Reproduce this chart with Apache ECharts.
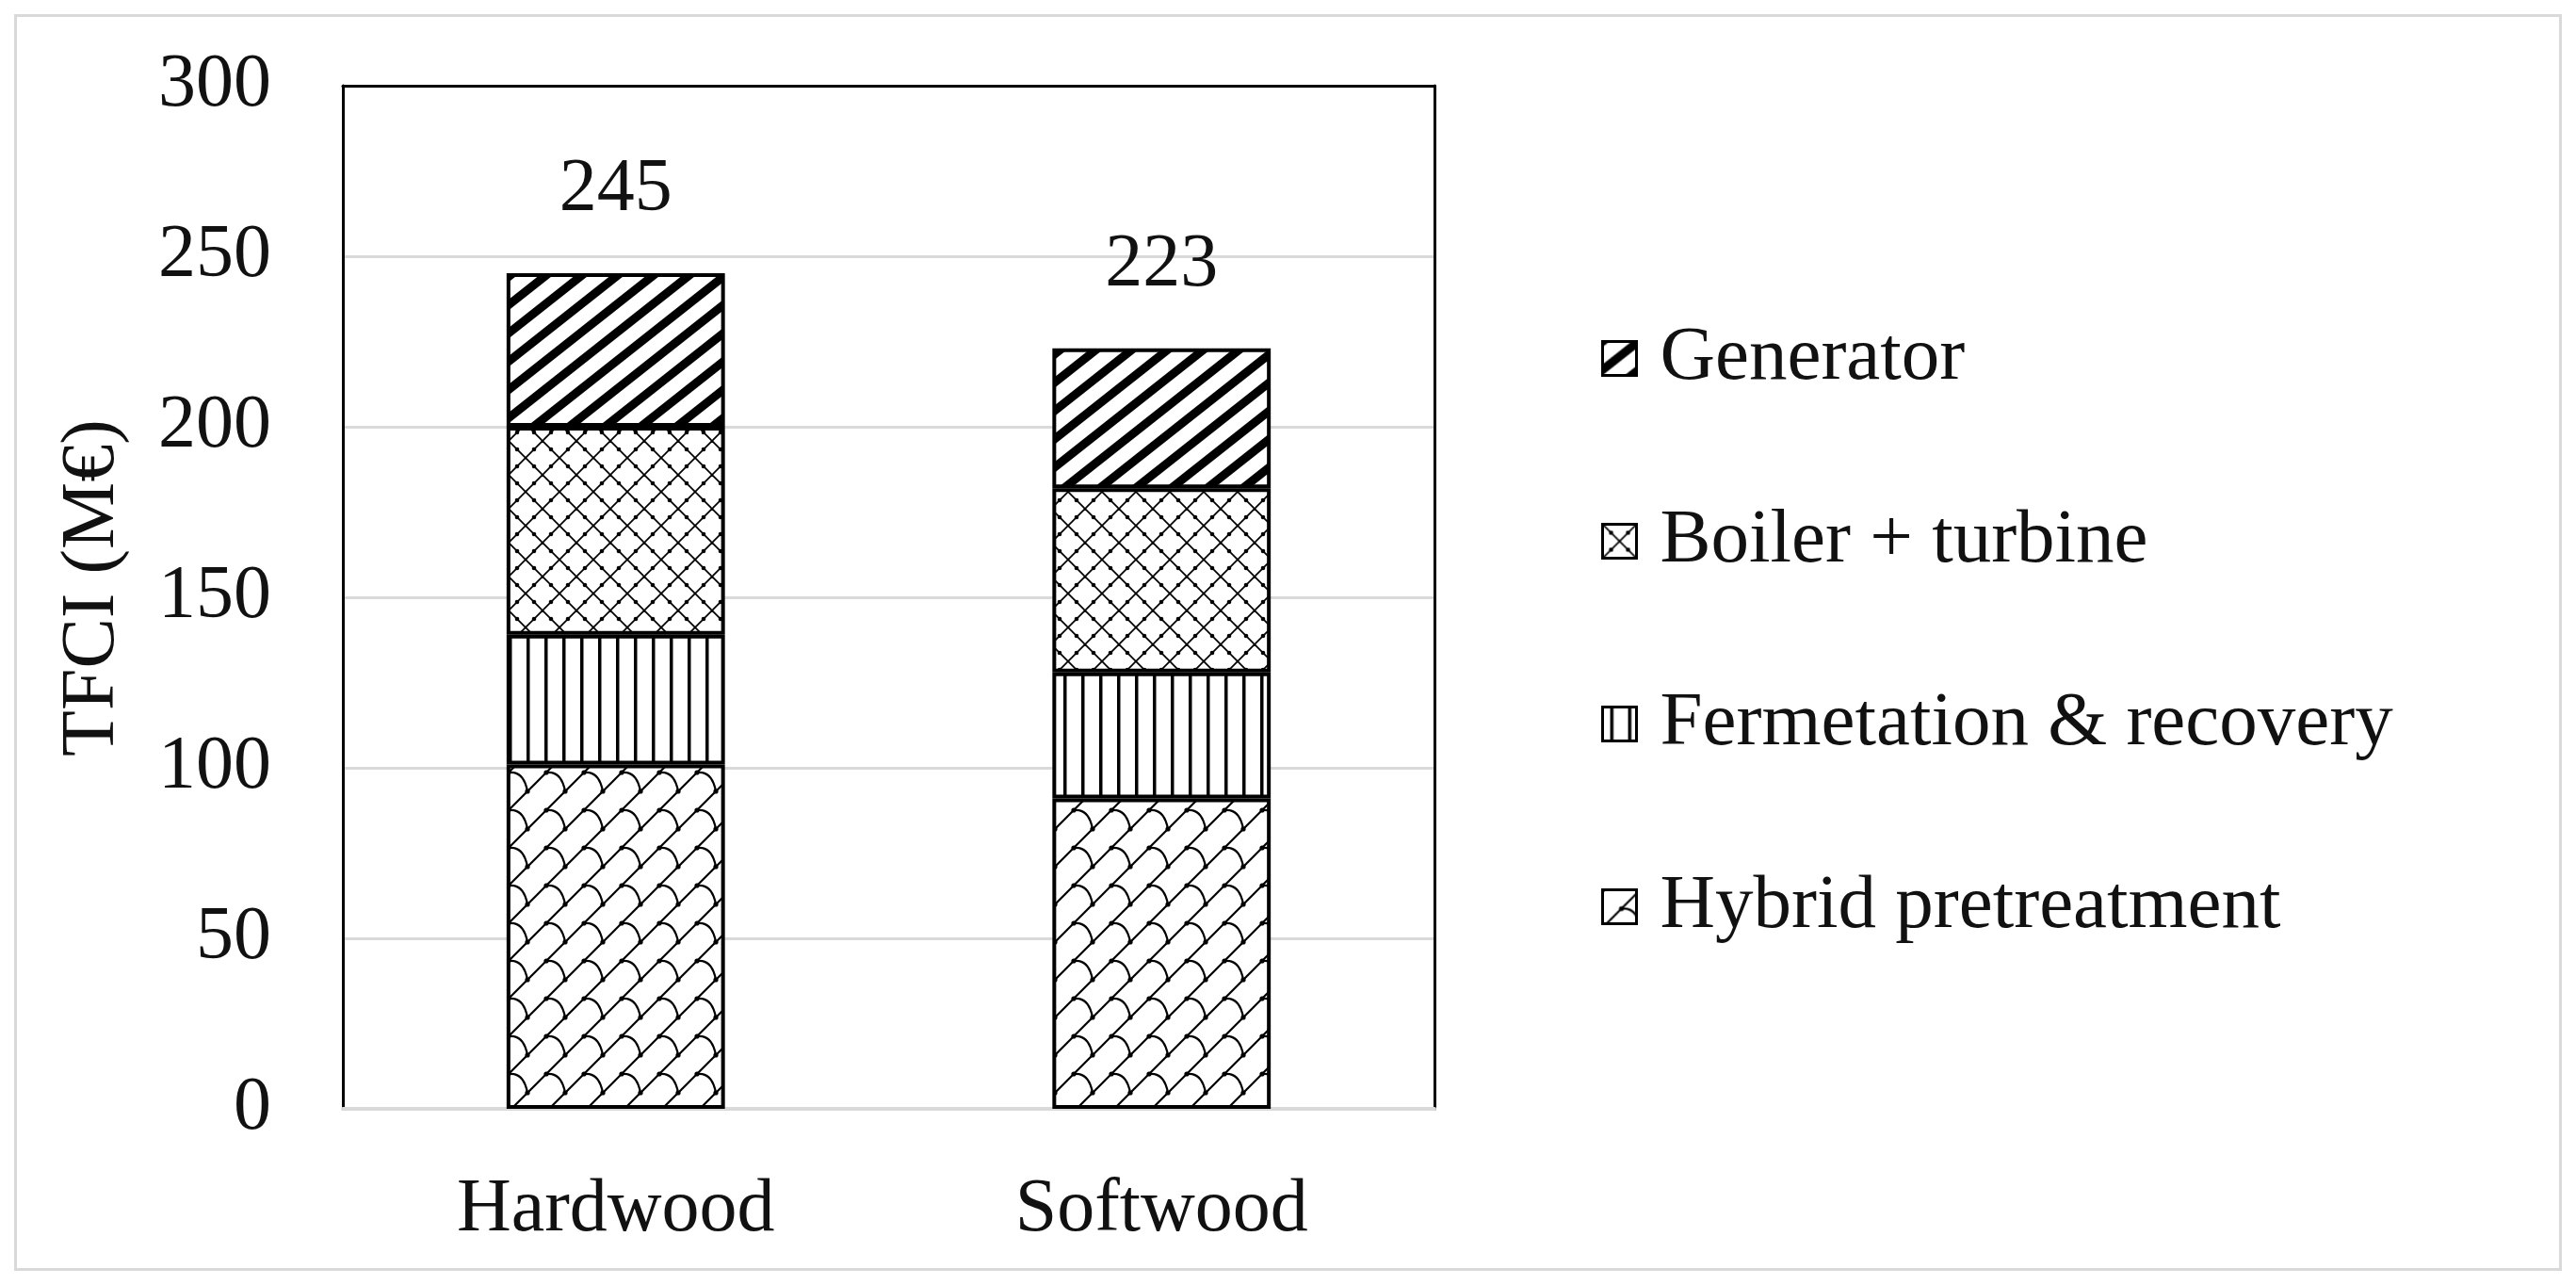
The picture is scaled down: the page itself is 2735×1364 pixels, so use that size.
<!DOCTYPE html>
<html>
<head>
<meta charset="utf-8">
<script src="https://cdn.jsdelivr.net/npm/echarts@6/dist/echarts.min.js"></script>
<style>
  html, body { margin: 0; padding: 0; background: #fff; }
  #chart { width: 2735px; height: 1364px; }
  #frame { position: absolute; left: 15px; top: 15px; width: 2699px; height: 1328px;
           border: 3px solid #d9d9d9; pointer-events: none; }
</style>
</head>
<body>
<div id="chart"></div>
<div id="frame"></div>
<script>
// data
const categories = ["Hardwood", "Softwood"];
const hybridPretreatment = [101, 91];
const fermentation = [38, 37];
const boilerTurbine = [61, 54];
const generator = [45, 41];
const yTicks = [0, 50, 100, 150, 200, 250, 300];

const totals = categories.map((c, i) =>
  hybridPretreatment[i] + fermentation[i] + boilerTurbine[i] + generator[i]);

const FONT = "'Liberation Serif', 'Times New Roman', serif";

// hatch patterns drawn on small canvases
function makeTile(w, h, draw) {
  const c = document.createElement("canvas");
  c.width = w;
  c.height = h;
  const ctx = c.getContext("2d");
  ctx.fillStyle = "#fff";
  ctx.fillRect(0, 0, w, h);
  ctx.strokeStyle = "#000";
  ctx.fillStyle = "#000";
  draw(ctx, w, h);
  return { image: c, repeat: "repeat" };
}

// "/" lines, extended past the tile so the ends don't get cut off
function diagUp(ctx, w, h) {
  for (const dx of [-w, 0, w]) {
    ctx.beginPath();
    ctx.moveTo(dx - w, 2 * h);
    ctx.lineTo(dx + 2 * w, -h);
    ctx.stroke();
  }
}
function diagDown(ctx, w, h) {
  for (const dx of [-w, 0, w]) {
    ctx.beginPath();
    ctx.moveTo(dx - w, -h);
    ctx.lineTo(dx + 2 * w, 2 * h);
    ctx.stroke();
  }
}

const stripePattern = makeTile(38, 30, (ctx, w, h) => {
  ctx.lineWidth = 9;
  diagUp(ctx, w, h);
});

const latticePattern = makeTile(36, 36, (ctx, w, h) => {
  ctx.lineWidth = 1.8;
  diagUp(ctx, w, h);
  diagDown(ctx, w, h);
  for (const [x, y] of [[w / 4, h / 4], [3 * w / 4, h / 4], [w / 4, 3 * h / 4], [3 * w / 4, 3 * h / 4]]) {
    ctx.beginPath();
    ctx.arc(x, y, 2.3, 0, Math.PI * 2);
    ctx.fill();
  }
});

const verticalPattern = makeTile(19, 10, (ctx, w, h) => {
  ctx.fillRect(8, 0, 3.5, h);
});

const shinglePattern = makeTile(40, 40, (ctx, w, h) => {
  ctx.lineWidth = 2.2;
  diagUp(ctx, w, h);
  for (const [ox, oy] of [[0, 0], [-w, 0], [0, -h], [-w, -h]]) {
    ctx.beginPath();
    ctx.moveTo(ox + w / 2, oy + h / 2);
    ctx.quadraticCurveTo(ox + w * 0.9, oy + h * 0.45, ox + w, oy + h);
    ctx.stroke();
  }
  for (const [x, y] of [[w / 2, h / 2], [0, 0], [w, 0], [0, h], [w, h]]) {
    ctx.beginPath();
    ctx.arc(x, y, 2.6, 0, Math.PI * 2);
    ctx.fill();
  }
});

const chart = echarts.init(document.getElementById("chart"));

const barBase = {
  type: "bar",
  stack: "total",
  barWidth: "40%",
  emphasis: { disabled: true },
};

const option = {
  animation: false,
  backgroundColor: "#fff",
  textStyle: { fontFamily: FONT, color: "#111" },
  grid: { left: 364, right: 1212, top: 91, bottom: 187 },
  legend: {
    orient: "vertical",
    left: 1695,
    top: 335,
    itemWidth: 36,
    itemHeight: 36,
    itemGap: 113,
    icon: "rect",
    data: ["Generator", "Boiler + turbine", "Fermetation & recovery", "Hybrid pretreatment"],
    itemStyle: { borderColor: "#000", borderWidth: 3 },
    textStyle: { fontFamily: FONT, fontSize: 81, lineHeight: 80, color: "#111", padding: [0, 0, 0, 20] },
  },
  xAxis: [
    {
      type: "category",
      data: categories,
      axisLine: { onZero: false, lineStyle: { color: "#d9d9d9", width: 4 } },
      axisTick: { show: false },
      axisLabel: { fontFamily: FONT, fontSize: 80, color: "#111", margin: 68 },
    },
    {
      type: "category",
      position: "top",
      data: categories,
      axisLine: { onZero: false, lineStyle: { color: "#000", width: 3 } },
      axisTick: { show: false },
      axisLabel: { show: false },
    },
  ],
  yAxis: [
    {
      type: "value",
      min: yTicks[0],
      max: yTicks[yTicks.length - 1],
      interval: yTicks[1] - yTicks[0],
      name: "TFCI (M€)",
      nameLocation: "middle",
      nameGap: 225,
      nameTextStyle: { fontFamily: FONT, fontSize: 80, color: "#111", padding: [0, 0, 0, 20] },
      axisLine: { show: true, onZero: false, lineStyle: { color: "#000", width: 3 } },
      axisTick: { show: false },
      axisLabel: { fontFamily: FONT, fontSize: 80, color: "#111", margin: 76 },
      splitLine: { lineStyle: { color: "#d9d9d9", width: 3 } },
    },
    {
      type: "value",
      position: "right",
      min: yTicks[0],
      max: yTicks[yTicks.length - 1],
      interval: yTicks[1] - yTicks[0],
      axisLine: { show: true, onZero: false, lineStyle: { color: "#000", width: 3 } },
      axisTick: { show: false },
      axisLabel: { show: false },
      splitLine: { show: false },
    },
  ],
  series: [
    {
      ...barBase,
      name: "Hybrid pretreatment",
      data: hybridPretreatment,
      itemStyle: { color: shinglePattern, borderColor: "#000", borderWidth: 4 },
    },
    {
      ...barBase,
      name: "Fermetation & recovery",
      data: fermentation,
      itemStyle: { color: verticalPattern, borderColor: "#000", borderWidth: 4 },
    },
    {
      ...barBase,
      name: "Boiler + turbine",
      data: boilerTurbine,
      itemStyle: { color: latticePattern, borderColor: "#000", borderWidth: 4 },
    },
    {
      ...barBase,
      name: "Generator",
      data: generator,
      itemStyle: { color: stripePattern, borderColor: "#000", borderWidth: 4 },
      label: {
        show: true,
        position: "top",
        distance: 48,
        fontFamily: FONT,
        fontSize: 80,
        color: "#111",
        formatter: (p) => String(totals[p.dataIndex]),
      },
    },
  ],
};

chart.setOption(option);
</script>
</body>
</html>
